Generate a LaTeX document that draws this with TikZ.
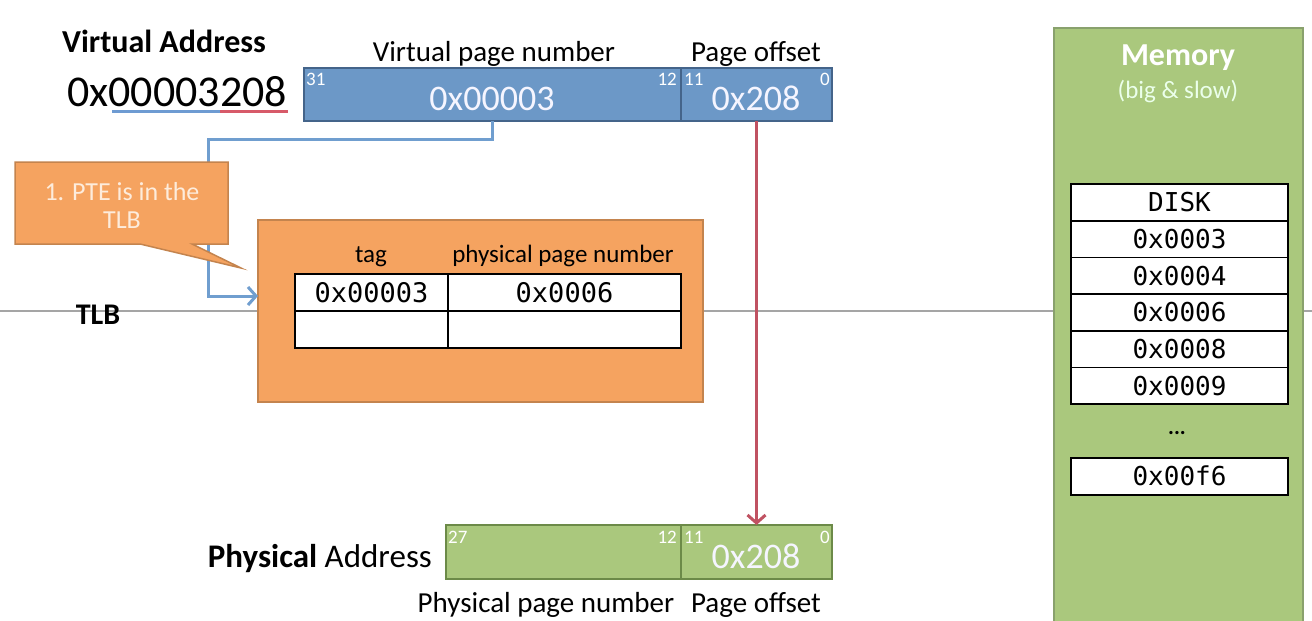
\documentclass[tikz,border=0pt]{standalone}
\usepackage{fontspec}
\setmainfont{Carlito}
\newfontfamily\monof{DejaVu Sans Mono}
\usetikzlibrary{arrows.meta,positioning}
\newcommand{\setfs}[2]{\fontsize{#1}{#2}\selectfont}
\definecolor{vblue}{RGB}{108,152,199}
\definecolor{vbluedk}{RGB}{68,100,138}
\definecolor{lnblue}{RGB}{112,158,207}
\definecolor{orfill}{RGB}{245,163,96}
\definecolor{ordk}{RGB}{196,132,78}
\definecolor{grfill}{RGB}{170,200,125}
\definecolor{grdk}{RGB}{108,138,72}
\definecolor{redln}{RGB}{192,82,98}
\definecolor{calltxt}{RGB}{253,236,220}
\definecolor{hline}{RGB}{165,165,165}
\definecolor{ulblue}{RGB}{110,155,210}
\definecolor{ulred}{RGB}{215,90,105}
\tikzset{
  lbl/.style={font=\setfs{29}{34}, inner sep=0, anchor=base},
  bitno/.style={font=\setfs{19}{21}, text=white, inner sep=0},
  vbox/.style={draw=vbluedk, fill=vblue, line width=2pt, minimum height=53pt, anchor=north west, inner sep=0, outer sep=0},
  pbox/.style={draw=grdk, fill=grfill, line width=2pt, minimum height=54pt, anchor=north west, inner sep=0, outer sep=0},
  bigval/.style={font=\setfs{36}{40}, text=white!96!blue, inner sep=0, anchor=base},
  cell/.style={draw=black, fill=white, line width=1.6pt, minimum width=217pt, minimum height=36.7pt, inner sep=0, outer sep=0, font=\monof\setfs{26}{30}, text height=19pt, text depth=0pt},
  tcell/.style={draw=black, fill=white, line width=1.6pt, minimum height=37pt, inner sep=0, outer sep=0, anchor=north west, font=\monof\setfs{27}{30}, text height=19.5pt, text depth=0pt},
  conn/.style={line width=3pt},
}
\begin{document}
\begin{tikzpicture}[x=1pt,y=-1pt]
\useasboundingbox (0,0) rectangle (1312,621);
\clip (0,0) rectangle (1312,621);
\fill[white] (0,0) rectangle (1312,621);

% horizontal separator
\coordinate (hl) at (0,311);
\coordinate (hr) at (1312,311);
\draw[hline, line width=1.2pt] (hl) -- (hr);

% Memory
\node[draw=grdk!80, fill=grfill, line width=2pt, minimum width=249pt, minimum height=620pt, anchor=north west, inner sep=0] (mem) at (1053,27) {};
\node[font=\bfseries\setfs{32}{36}, text=white, inner sep=0, anchor=base] (memt) at (1178,65) {Memory};
\node[font=\setfs{25}{28}, text=white!92!green, inner sep=0, anchor=base] (mems) at (1178,98) {(big \& slow)};
\node[cell, anchor=north] (m1) at (1179.5,184) {DISK};
\node[cell, below=0pt of m1] (m2) {0x0003};
\node[cell, below=0pt of m2] (m3) {0x0004};
\node[cell, below=0pt of m3] (m4) {0x0006};
\node[cell, below=0pt of m4] (m5) {0x0008};
\node[cell, below=0pt of m5] (m6) {0x0009};
\node[font=\bfseries\setfs{22}{24}, inner sep=0] (mdots) at (1177,433) {...};
\node[cell, anchor=north] (m7) at (1179.5,458) {0x00f6};

% Virtual address
\node[font=\bfseries\setfs{32}{36}, inner sep=0, anchor=base] (vat) at (164,52) {Virtual Address};
\node[font=\setfs{44}{48}, inner sep=0, anchor=base west] (vaddr) at (67,106) {0x00003208};
\coordinate (u1) at (112,111);
\coordinate (u2) at (220,111);
\coordinate (u3) at (288,111);
\draw[ulblue, line width=3pt] (u1) -- (u2);
\draw[ulred, line width=3pt] (u2) -- (u3);

\node[vbox, minimum width=377pt] (vpn) at (304,68) {};
\node[vbox, minimum width=151pt] (voff) at (681,68) {};
\node[lbl] (vpnl) at (494,61) {Virtual page number};
\node[lbl] (voffl) at (756,61) {Page offset};
\node[bigval] (vpnv) at (492,110) {0x00003};
\node[bigval] (voffv) at (756,110) {0x208};
\node[bitno, anchor=base west] (b31) at (306,85) {31};
\node[bitno, anchor=base east] (b12) at (677,85) {12};
\node[bitno, anchor=base west] (b11) at (684,85) {11};
\node[bitno, anchor=base east] (b0) at (830,85) {0};

% TLB
\node[font=\bfseries\setfs{30}{34}, inner sep=0, anchor=base] (tlbl) at (98,324) {TLB};
\node[draw=ordk, fill=orfill, line width=2pt, minimum width=445pt, minimum height=182pt, anchor=north west, inner sep=0, outer sep=0] (tlb) at (258,220) {};
\node[font=\setfs{25}{28}, inner sep=0, anchor=base] (tagl) at (371,262) {tag};
\node[font=\setfs{25}{28}, inner sep=0, anchor=base] (ppnl) at (563,262) {physical page number};
\node[tcell, minimum width=153pt] (t11) at (295,274) {0x00003};
\node[tcell, minimum width=233pt] (t12) at (448,274) {0x0006};
\node[tcell, minimum width=153pt] (t21) at (295,311) {};
\node[tcell, minimum width=233pt] (t22) at (448,311) {};

% blue connector VPN -> TLB
\coordinate (c1) at (208,139);
\draw[lnblue, conn, -{Straight Barb[length=8pt,width=18pt]}] (vpn.south) |- (c1) |- ([yshift=15pt]tlb.west);

% callout
\fill[orfill, draw=ordk, line width=1.5pt] (15,162) -- (228,162) -- (228,244) -- (192,244) -- (241,268) -- (140,244) -- (15,244) -- cycle;
\node[font=\setfs{26}{28}, text=calltxt, inner sep=0, anchor=base] (call1) at (122,200) {1. PTE is in the};
\node[font=\setfs{26}{28}, text=calltxt, inner sep=0, anchor=base] (call2) at (122,228) {TLB};

% Physical address
\node[pbox, minimum width=235pt] (ppn) at (446,525) {};
\node[pbox, minimum width=151pt] (poff) at (681,525) {};
\node[bitno, anchor=base west] (p27) at (448,543) {27};
\node[bitno, anchor=base east] (p12) at (677,543) {12};
\node[bitno, anchor=base west] (p11) at (684,543) {11};
\node[bitno, anchor=base east] (p0) at (830,543) {0};
\node[bigval] (poffv) at (756,568) {0x208};
\node[font=\setfs{33}{36}, inner sep=0, anchor=base east] (pat) at (432,567) {\textbf{Physical} Address};
\node[lbl] (ppnl) at (546,612) {Physical page number};
\node[lbl] (poffl) at (756,612) {Page offset};

% red connector
\draw[redln, conn, -{Straight Barb[length=8pt,width=18pt]}] (voff.south) -- (poff.north);
\end{tikzpicture}
\end{document}
